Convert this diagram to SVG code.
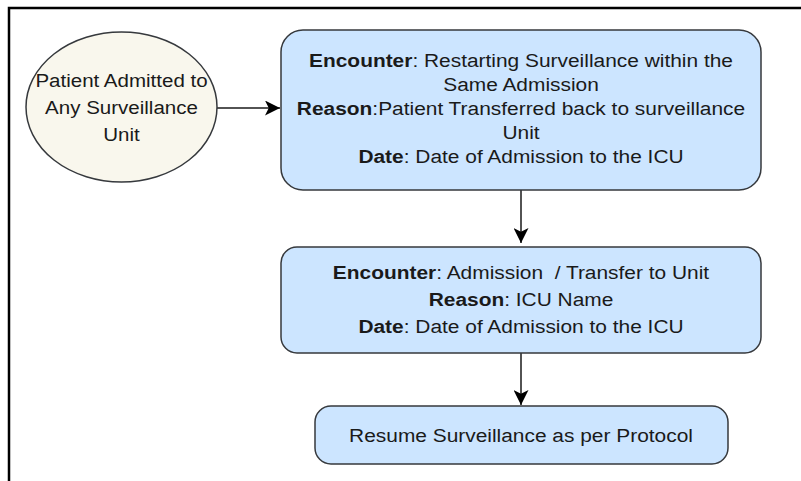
<svg xmlns="http://www.w3.org/2000/svg" width="801" height="481" viewBox="0 0 801 481">
  <style>
    .frame { fill: none; stroke: #000; stroke-width: 2.5; }
    .start { fill: #f9f7ed; stroke: #36393d; stroke-width: 1.5; }
    .step { fill: #cce5ff; stroke: #36393d; stroke-width: 1.5; }
    .label { font-family: "Liberation Sans", Arial, sans-serif; font-size: 19px; fill: #1a1a1a; text-anchor: middle; }
    .b { font-weight: bold; }
    .edge { fill: none; stroke: #1a1a1a; stroke-width: 1.5; }
  </style>
  <defs>
    <marker id="arrow" markerUnits="userSpaceOnUse" viewBox="0 0 16 16" refX="16" refY="8" markerWidth="16" markerHeight="15" orient="auto">
      <path d="M0,0 L16,8 L0,16 L4,8 Z" fill="#000"/>
    </marker>
  </defs>

  <!-- page frame -->
  <path class="frame" d="M9,481 V8 H801"/>

  <!-- connectors -->
  <g id="connectors">
    <path class="edge" d="M217,108 H280" marker-end="url(#arrow)"/>
    <path class="edge" d="M521,190 V243" marker-end="url(#arrow)"/>
    <path class="edge" d="M521,353 V405" marker-end="url(#arrow)"/>
  </g>

  <!-- start node -->
  <g id="patient-admitted">
    <ellipse class="start" cx="121.5" cy="107" rx="95.5" ry="75"/>
    <g transform="translate(121.5 0) scale(1.08 1)">
      <text class="label" x="0" y="87.5">Patient Admitted to</text>
      <text class="label" x="0" y="114">Any Surveillance</text>
      <text class="label" x="0" y="141">Unit</text>
    </g>
  </g>

  <!-- restart encounter -->
  <g id="restart-encounter">
    <rect class="step" x="281" y="30" width="480" height="160" rx="22" ry="22"/>
    <g transform="translate(521 0) scale(1.1 1)">
      <text class="label" x="0" y="67"><tspan class="b">Encounter</tspan>: Restarting Surveillance within the</text>
      <text class="label" x="0" y="91">Same Admission</text>
      <text class="label" x="0" y="115.5"><tspan class="b">Reason</tspan>:Patient Transferred back to surveillance</text>
      <text class="label" x="0" y="139">Unit</text>
      <text class="label" x="0" y="163"><tspan class="b">Date</tspan>: Date of Admission to the ICU</text>
    </g>
  </g>

  <!-- admission / transfer encounter -->
  <g id="transfer-encounter">
    <rect class="step" x="281" y="247" width="480" height="106" rx="16" ry="16"/>
    <g transform="translate(521 0) scale(1.1 1)">
      <text class="label" x="0" y="279.5" xml:space="preserve"><tspan class="b">Encounter</tspan>: Admission  / Transfer to Unit</text>
      <text class="label" x="0" y="306"><tspan class="b">Reason</tspan>: ICU Name</text>
      <text class="label" x="0" y="333"><tspan class="b">Date</tspan>: Date of Admission to the ICU</text>
    </g>
  </g>

  <!-- resume surveillance -->
  <g id="resume-surveillance">
    <rect class="step" x="315" y="406" width="413" height="58" rx="16" ry="16"/>
    <g transform="translate(521 0) scale(1.1 1)">
      <text class="label" x="0" y="442">Resume Surveillance as per Protocol</text>
    </g>
  </g>
</svg>
